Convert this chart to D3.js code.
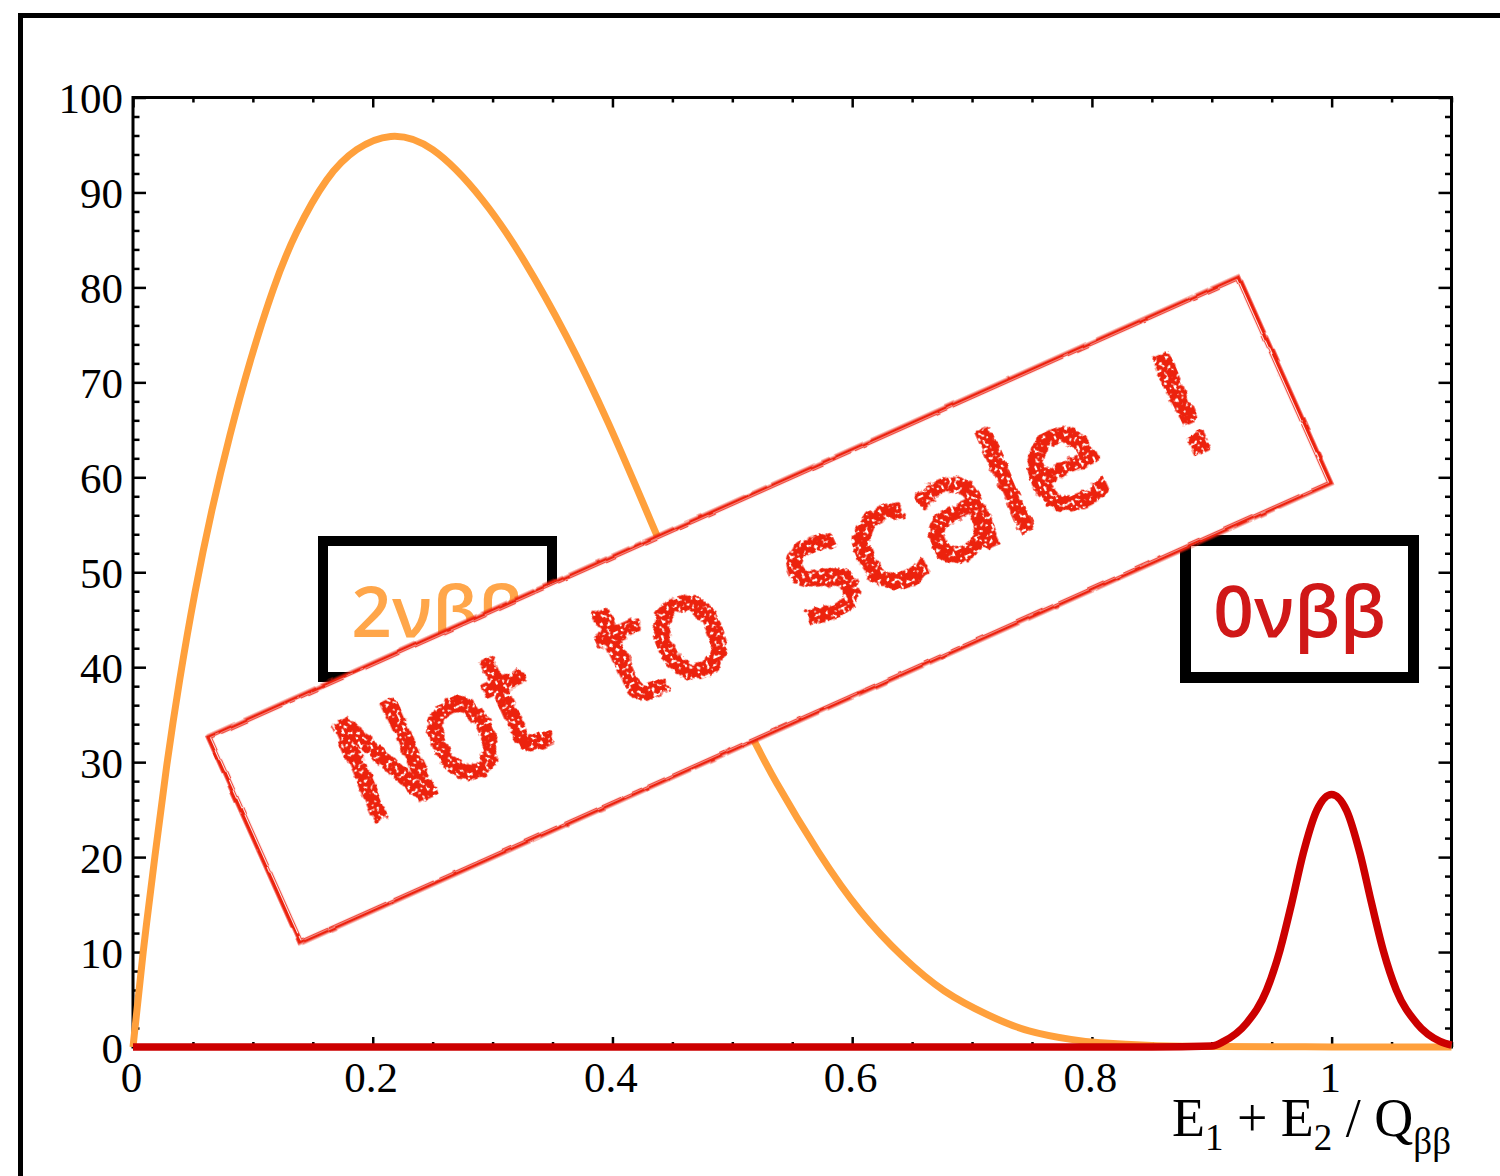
<!DOCTYPE html>
<html>
<head>
<meta charset="utf-8">
<script src="https://cdn.jsdelivr.net/npm/d3@7"></script>
<style>
  body { margin: 0; background: #fff; }
  svg { display: block; }
</style>
</head>
<body>
<script>
// 2nbb spectrum
const twoNuX = [0, 0.0085, 0.0183, 0.028, 0.039, 0.0516, 0.0656, 0.0808, 0.0975, 0.117, 0.1365, 0.1615, 0.1866, 0.215, 0.25, 0.291, 0.3263, 0.3614, 0.3966, 0.4316, 0.46, 0.49, 0.5176, 0.537, 0.572, 0.607, 0.6423, 0.677, 0.713, 0.7475, 0.7825, 0.807, 0.85, 0.9, 1.0, 1.1];
const twoNuY = [0, 10.0, 20.1, 29.5, 38.7, 47.8, 56.4, 64.4, 72.1, 79.8, 85.8, 91.3, 94.5, 95.9, 94.5, 89.3, 82.8, 74.9, 65.7, 55.5, 47.3, 39.2, 32.4, 27.8, 20.5, 14.3, 9.5, 5.9, 3.4, 1.7, 0.8, 0.45, 0.15, 0.05, 0.01, 0];
// 0nbb peak
const zeroNuX = [0, 0.85, 0.9, 0.9096, 0.929, 0.9458, 0.9569, 0.9666, 0.9763, 0.9875, 1.0, 1.0125, 1.0236, 1.0334, 1.043, 1.054, 1.071, 1.0904, 1.1];
const zeroNuY = [0, 0, 0.1, 0.56, 2.5, 6.0, 10.2, 15.1, 20.4, 24.9, 26.6, 24.9, 20.4, 15.1, 10.2, 6.0, 2.5, 0.6, 0.2];

const xTicks = [0, 0.2, 0.4, 0.6, 0.8, 1];
const xTickLabels = ["0", "0.2", "0.4", "0.6", "0.8", "1"];
const yTicks = [0, 10, 20, 30, 40, 50, 60, 70, 80, 90, 100];
const stampWords = ["Not", "to", "scale", "!"];

const W = 1500, H = 1176;
const pLeft = 133, pRight = 1451.5, pTop = 97.5, pBottom = 1047;
const orange = "#ffa03c", red = "#cc0000", stampRed = "#ec2210";
const serif = "'Liberation Serif', 'Times New Roman', serif";

const svg = d3.select("body").append("svg")
    .attr("width", W)
    .attr("height", H);

const defs = svg.append("defs");
// ragged edges for the stamp letters
const rough = defs.append("filter").attr("id", "rough")
    .attr("x", "-5%").attr("y", "-20%").attr("width", "110%").attr("height", "140%");
rough.append("feTurbulence").attr("type", "fractalNoise").attr("baseFrequency", 0.12)
    .attr("numOctaves", 2).attr("seed", 3).attr("result", "noise");
rough.append("feDisplacementMap").attr("in", "SourceGraphic").attr("in2", "noise")
    .attr("scale", 8).attr("xChannelSelector", "R").attr("yChannelSelector", "G").attr("result", "disp");
rough.append("feTurbulence").attr("type", "fractalNoise").attr("baseFrequency", 0.3)
    .attr("numOctaves", 1).attr("seed", 8).attr("result", "speck");
rough.append("feColorMatrix").attr("in", "speck").attr("type", "matrix")
    .attr("values", "0 0 0 0 0  0 0 0 0 0  0 0 0 0 0  0 0 0 -14 9.2").attr("result", "mask");
rough.append("feComposite").attr("in", "disp").attr("in2", "mask").attr("operator", "in");

const roughLine = defs.append("filter").attr("id", "roughLine")
    .attr("x", "-5%").attr("y", "-20%").attr("width", "110%").attr("height", "140%");
roughLine.append("feTurbulence").attr("type", "fractalNoise").attr("baseFrequency", 0.05)
    .attr("numOctaves", 2).attr("seed", 5).attr("result", "noise");
roughLine.append("feDisplacementMap").attr("in", "SourceGraphic").attr("in2", "noise")
    .attr("scale", 3).attr("xChannelSelector", "R").attr("yChannelSelector", "G");

// outer canvas frame
svg.append("rect")
    .attr("x", 20.5).attr("y", 15.5)
    .attr("width", 1600).attr("height", 1300)
    .attr("fill", "none").attr("stroke", "#000").attr("stroke-width", 5);

const x = d3.scaleLinear().domain([0, 1.1]).range([pLeft, pRight]);
const y = d3.scaleLinear().domain([0, 100]).range([pBottom, pTop]);

const xMinor = d3.range(0, 1.1001, 0.05).filter(v => Math.abs(v / 0.2 - Math.round(v / 0.2)) > 1e-6);
const yMinor = d3.range(0, 100.001, 2).filter(v => v % 10 !== 0);

function drawAxis(axis, tx, ty) {
    const g = svg.append("g")
        .attr("transform", "translate(" + tx + "," + ty + ")")
        .call(axis);
    g.select(".domain").remove();
    g.selectAll(".tick line").attr("stroke", "#000").attr("stroke-width", 2.5);
    return g;
}

// bottom axis with labels
const gx = drawAxis(d3.axisBottom(x).tickValues(xTicks).tickSize(-10)
    .tickFormat((d, i) => xTickLabels[i]), 0, pBottom);
gx.selectAll(".tick text")
    .attr("y", 45).attr("dy", 0).attr("dx", -2)
    .style("font-family", serif)
    .attr("font-size", 43).attr("fill", "#000");
drawAxis(d3.axisBottom(x).tickValues(xMinor).tickSize(-5).tickFormat(""), 0, pBottom);
drawAxis(d3.axisTop(x).tickValues(xTicks).tickSize(-10).tickFormat(""), 0, pTop);
drawAxis(d3.axisTop(x).tickValues(xMinor).tickSize(-5).tickFormat(""), 0, pTop);

// left axis with labels
const gy = drawAxis(d3.axisLeft(y).tickValues(yTicks).tickSize(-13), pLeft, 0);
gy.selectAll(".tick text")
    .attr("x", -10).attr("dy", 15)
    .style("font-family", serif)
    .attr("font-size", 43).attr("fill", "#000");
drawAxis(d3.axisLeft(y).tickValues(yMinor).tickSize(-6.5).tickFormat(""), pLeft, 0);
drawAxis(d3.axisRight(y).tickValues(yTicks).tickSize(-13).tickFormat(""), pRight, 0);
drawAxis(d3.axisRight(y).tickValues(yMinor).tickSize(-6.5).tickFormat(""), pRight, 0);

// plot frame
svg.append("rect")
    .attr("x", pLeft).attr("y", pTop)
    .attr("width", pRight - pLeft).attr("height", pBottom - pTop)
    .attr("fill", "none").attr("stroke", "#000").attr("stroke-width", 3);

// axis title E1 + E2 / Qbb
const title = svg.append("text")
    .attr("x", 1451).attr("y", 1136)
    .attr("text-anchor", "end")
    .style("font-family", serif)
    .attr("font-size", 54).attr("fill", "#000");
title.append("tspan").text("E");
title.append("tspan").attr("dy", 14).attr("font-size", 37).text("1");
title.append("tspan").attr("dy", -14).text(" + E");
title.append("tspan").attr("dy", 14).attr("font-size", 37).text("2");
title.append("tspan").attr("dy", -14).text(" / Q");
title.append("tspan").attr("dy", 18).attr("font-size", 37).text("ββ");

// curves
const line2nu = d3.line()
    .x(d => x(d[0]))
    .y(d => y(d[1]))
    .curve(d3.curveNatural);
const line0nu = d3.line()
    .x(d => x(d[0]))
    .y(d => y(d[1]))
    .curve(d3.curveMonotoneX);

svg.append("path")
    .datum(d3.zip(twoNuX, twoNuY))
    .attr("d", line2nu)
    .attr("fill", "none").attr("stroke", orange).attr("stroke-width", 7);

svg.append("path")
    .datum(d3.zip(zeroNuX, zeroNuY))
    .attr("d", line0nu)
    .attr("fill", "none").attr("stroke", red).attr("stroke-width", 7.5);

// label boxes
function labelBox(bx, by, bw, bh, sw, txt, col) {
    svg.append("rect")
        .attr("x", bx).attr("y", by).attr("width", bw).attr("height", bh)
        .attr("fill", "#fff").attr("stroke", "#000").attr("stroke-width", sw);
    svg.append("text")
        .attr("x", bx + bw / 2).attr("y", 637)
        .attr("text-anchor", "middle")
        .style("font-family", "'Open Sans', 'DejaVu Sans', sans-serif")
        .attr("font-weight", 600)
        .attr("font-size", 71).attr("fill", col)
        .text(txt);
}
labelBox(323, 541, 229, 136, 10, "2νββ", "#ffa64a");
labelBox(1185.5, 540.5, 228, 137, 11, "0νββ", "#d01818");

// "Not to scale !" stamp
const sw = 1129, sh = 226;
const stamp = svg.append("g")
    .attr("transform", "translate(769.5,610) rotate(-24.05)");
stamp.append("rect")
    .attr("x", -sw / 2).attr("y", -sh / 2).attr("width", sw).attr("height", sh)
    .attr("fill", "#fff");
const border = stamp.append("g").attr("filter", "url(#roughLine)")
    .attr("fill", "none").attr("stroke", stampRed);
border.append("rect")
    .attr("x", -sw / 2).attr("y", -sh / 2).attr("width", sw).attr("height", sh)
    .attr("stroke-width", 3);
border.append("rect")
    .attr("x", -sw / 2 + 3).attr("y", -sh / 2 + 2.5).attr("width", sw - 6).attr("height", sh - 5)
    .attr("stroke-width", 1.2).attr("stroke-opacity", 0.8);
border.append("rect")
    .attr("x", -sw / 2 - 2).attr("y", -sh / 2 - 2).attr("width", sw + 4).attr("height", sh + 4)
    .attr("stroke-width", 1).attr("stroke-opacity", 0.6);

const wordStart = [-457, -173, 27, 432];
const wordWidth = [208, 128, 340, 0];
const words = stamp.append("g").attr("filter", "url(#rough)");
stampWords.forEach((w, i) => {
    const t = words.append("text")
        .attr("x", wordStart[i]).attr("y", 31)
        .style("font-family", "'DejaVu Sans', sans-serif")
        .attr("font-size", 140)
        .attr("fill", stampRed)
        .attr("stroke", stampRed)
        .attr("stroke-width", 5)
        .attr("stroke-linejoin", "round")
        .text(w);
    if (wordWidth[i] > 0) {
        t.attr("textLength", wordWidth[i]).attr("lengthAdjust", "spacingAndGlyphs");
    }
});
</script>
</body>
</html>
